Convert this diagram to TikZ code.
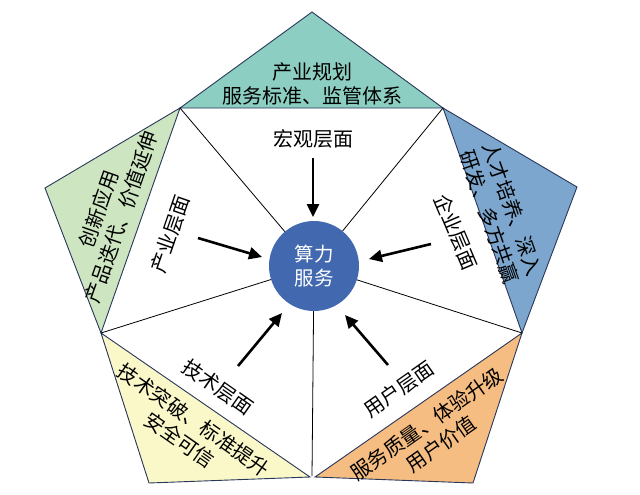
\documentclass[tikz,border=0pt]{standalone}
\usepackage{fontspec}
\newfontfamily\cjk{Noto Sans CJK SC}
\usetikzlibrary{arrows.meta}
\definecolor{tealf}{RGB}{140,206,193}
\definecolor{greenf}{RGB}{205,230,193}
\definecolor{bluef}{RGB}{124,166,205}
\definecolor{yellowf}{RGB}{250,247,201}
\definecolor{orangef}{RGB}{245,189,130}
\definecolor{circf}{RGB}{66,105,176}
\definecolor{edgec}{RGB}{40,55,90}
\tikzset{
  petal/.style={draw=edgec, line width=0.9pt, line join=miter},
  spoke/.style={draw=black, line width=0.8pt},
  push/.style={draw=black, line width=2.6pt, -{Triangle[length=13pt,width=12pt]}},
  lbl/.style={font=\cjk\fontsize{20}{24.5}\selectfont, align=center, inner sep=0pt},
}
\begin{document}
\begin{tikzpicture}[x=1pt,y=-1pt]
\useasboundingbox[fill=white] (0,0) rectangle (640,495);
% vertices
\coordinate (A)  at (312,12);
\coordinate (TL) at (180,108);
\coordinate (TR) at (443,108);
\coordinate (L)  at (101,333);
\coordinate (R)  at (522,333);
\coordinate (B)  at (312,476);
\coordinate (BY) at (310,477);
\coordinate (BO) at (315,477);
\coordinate (GL) at (45,188);
\coordinate (BR) at (577,187);
\coordinate (YL) at (149,483);
\coordinate (OR) at (473,483);
% outer triangles
\draw[petal, fill=tealf]   (TL) -- (A)  -- (TR) -- cycle;
\draw[petal, fill=greenf]  (TL) -- (GL) -- (L)  -- cycle;
\draw[petal, fill=bluef]   (TR) -- (BR) -- (R)  -- cycle;
\draw[petal, fill=yellowf] (L)  -- (YL) -- (BY) -- cycle;
\draw[petal, fill=orangef] (BO) -- (OR) -- (R)  -- cycle;
% centre
\node[circle, fill=circf, minimum size=90pt, inner sep=0pt, text=white,
      font=\cjk\fontsize{19.5}{24}\selectfont, align=center] (C) at (314,266) {算力\\服务};
\draw[spoke] (C) -- (TL);
\draw[spoke] (C) -- (TR);
\draw[spoke] (C) -- (L);
\draw[spoke] (C) -- (R);
\draw[spoke] (C) -- (B);
% outer texts
\node[lbl] (tT) at (312,84) {产业规划\\服务标准、监管体系};
\node[lbl, rotate=70.7] (tG) at (110,213) {创新应用\\产品迭代、价值延伸};
\node[lbl, rotate=-70.7] (tB) at (501,213) {人才培养、深入\\研发、多方共赢};
\node[lbl, rotate=-35] (tY) at (187,430) {技术突破、标准提升\\安全可信};
\node[lbl, rotate=35] (tO) at (434,434) {服务质量、体验升级\\用户价值};
% inner labels
\node[lbl] (l1) at (313,139) {宏观层面};
\node[lbl, rotate=71] (l2) at (170,234) {产业层面};
\node[lbl, rotate=-67] (l3) at (456,232) {企业层面};
\node[lbl, rotate=-35] (l4) at (218,387) {技术层面};
\node[lbl, rotate=35] (l5) at (399,389) {用户层面};
% arrows
\coordinate (a1) at (313,158); \coordinate (b1) at (313,217);
\coordinate (a2) at (198,238); \coordinate (b2) at (262,257);
\coordinate (a3) at (431,244); \coordinate (b3) at (369,259);
\coordinate (a4) at (238,366); \coordinate (b4) at (282,313);
\coordinate (a5) at (388,365); \coordinate (b5) at (345,315);
\draw[push] (a1) -- (b1);
\draw[push] (a2) -- (b2);
\draw[push] (a3) -- (b3);
\draw[push] (a4) -- (b4);
\draw[push] (a5) -- (b5);
\end{tikzpicture}
\end{document}
